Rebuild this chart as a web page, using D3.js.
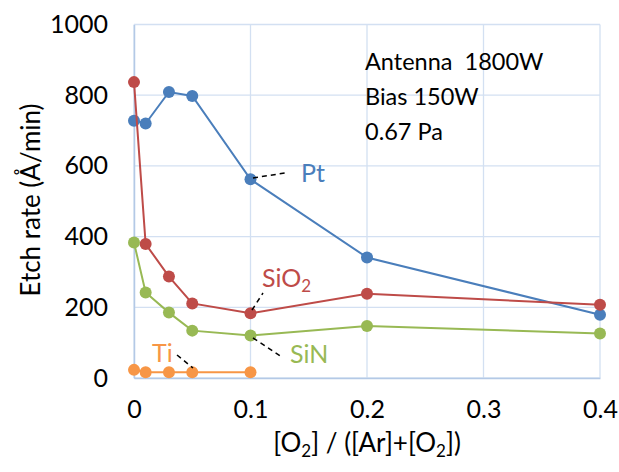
<!DOCTYPE html>
<html>
<head>
<meta charset="utf-8">
<script src="https://cdn.jsdelivr.net/npm/d3@7"></script>
<style>
  body { margin: 0; background: #fff; }
  svg text { font-family: Lato, "Open Sans", sans-serif; }
</style>
</head>
<body>
<div id="chart-area"></div>
<script>
// O2 fraction on the x axis
var ratio = [0, 0.01, 0.03, 0.05, 0.1, 0.2, 0.4];
var ptRate = [728, 720, 809, 798, 562, 341, 179];
var sio2Rate = [837, 379, 287, 211, 183, 238, 207];
var sinRate = [383, 242, 185, 134, 120, 147, 126];
var tiRatio = [0, 0.01, 0.03, 0.05, 0.1];
var tiRate = [23, 16, 16, 16, 16];

var xTicks = [0, 0.1, 0.2, 0.3, 0.4];
var yTicks = [0, 200, 400, 600, 800, 1000];

var series = [
  { name: 'Pt', xs: ratio, ys: ptRate, color: '#4a7ebb' },
  { name: 'SiO2', xs: ratio, ys: sio2Rate, color: '#be4b48' },
  { name: 'SiN', xs: ratio, ys: sinRate, color: '#98b954' },
  { name: 'Ti', xs: tiRatio, ys: tiRate, color: '#f79646' }
];

var svg = d3.select('#chart-area').append('svg')
  .attr('width', 619)
  .attr('height', 472);

var x = d3.scaleLinear().domain([0, 0.4]).range([134, 600]);
var y = d3.scaleLinear().domain([0, 1000]).range([378, 24.5]);

// gridlines
svg.append('g').selectAll('line.h')
  .data(yTicks)
  .enter().append('line')
    .attr('x1', x(0)).attr('x2', x(0.4))
    .attr('y1', function(d) { return y(d); })
    .attr('y2', function(d) { return y(d); })
    .attr('stroke', '#d3e0f2')
    .attr('stroke-width', 1.3);

svg.append('g').selectAll('line.v')
  .data(xTicks)
  .enter().append('line')
    .attr('y1', y(0)).attr('y2', y(1000))
    .attr('x1', function(d) { return x(d); })
    .attr('x2', function(d) { return x(d); })
    .attr('stroke', '#d3e0f2')
    .attr('stroke-width', 1.3);

// axes
var yAxis = svg.append('g')
  .attr('transform', 'translate(' + x(0) + ',0)')
  .call(d3.axisLeft(y).tickValues(yTicks).tickSize(0).tickPadding(26).tickFormat(d3.format('d')));
var xAxis = svg.append('g')
  .attr('transform', 'translate(0,' + y(0) + ')')
  .call(d3.axisBottom(x).tickValues(xTicks).tickSize(0).tickPadding(22).tickFormat(function(d) { return d === 0 ? '0' : d3.format('.1f')(d); }));

[xAxis, yAxis].forEach(function(ax) {
  ax.select('.domain').attr('stroke', '#b4c9e6').attr('stroke-width', 1.5);
  ax.selectAll('text').attr('font-size', 25).attr('fill', '#000')
    .style('font-family', 'Lato, sans-serif');
});

// lines and markers
var line = d3.line()
  .x(function(d) { return x(d[0]); })
  .y(function(d) { return y(d[1]); });

series.forEach(function(s) {
  var pts = s.xs.map(function(v, i) { return [v, s.ys[i]]; });
  svg.append('path')
    .attr('d', line(pts))
    .attr('fill', 'none')
    .attr('stroke', s.color)
    .attr('stroke-width', 2);
  svg.append('g').selectAll('circle')
    .data(pts)
    .enter().append('circle')
      .attr('cx', function(d) { return x(d[0]); })
      .attr('cy', function(d) { return y(d[1]); })
      .attr('r', 6)
      .attr('fill', s.color);
});

// axis titles
svg.append('text')
  .attr('transform', 'translate(40,200) rotate(-90)')
  .attr('text-anchor', 'middle')
  .attr('font-size', 26)
  .text('Etch rate (Å/min)');

var xt = svg.append('text')
  .attr('x', 367).attr('y', 452)
  .attr('text-anchor', 'middle')
  .attr('font-size', 26);
xt.append('tspan').text('[O');
xt.append('tspan').attr('font-size', 17).attr('dy', 5).text('2');
xt.append('tspan').attr('dy', -5).text('] / ([Ar]+[O');
xt.append('tspan').attr('font-size', 17).attr('dy', 5).text('2');
xt.append('tspan').attr('dy', -5).text('])');

// conditions
var conditions = ['Antenna\u00a0 1800W', 'Bias 150W', '0.67 Pa'];
svg.append('g').selectAll('text')
  .data(conditions)
  .enter().append('text')
    .attr('x', 365)
    .attr('y', function(d, i) { return 70 + i * 35; })
    .attr('font-size', 23.5)
    .text(function(d) { return d; });

// series labels with dashed leaders
var leaders = [
  [253, 178, 285, 173],
  [252, 310, 263, 293],
  [253, 338, 282, 357],
  [177, 355, 193, 368]
];
svg.append('g').selectAll('line')
  .data(leaders)
  .enter().append('line')
    .attr('x1', function(d) { return d[0]; })
    .attr('y1', function(d) { return d[1]; })
    .attr('x2', function(d) { return d[2]; })
    .attr('y2', function(d) { return d[3]; })
    .attr('stroke', '#000')
    .attr('stroke-width', 1.5)
    .attr('stroke-dasharray', '5,4');

svg.append('text').attr('x', 301).attr('y', 182).attr('font-size', 25)
  .attr('fill', series[0].color).text('Pt');
var sl = svg.append('text').attr('x', 262).attr('y', 287).attr('font-size', 25)
  .attr('fill', series[1].color);
sl.append('tspan').text('SiO');
sl.append('tspan').attr('font-size', 17).attr('dy', 5).text('2');
svg.append('text').attr('x', 290).attr('y', 363).attr('font-size', 25)
  .attr('fill', series[2].color).text('SiN');
svg.append('text').attr('x', 152).attr('y', 362).attr('font-size', 25)
  .attr('fill', series[3].color).text('Ti');
</script>
</body>
</html>
